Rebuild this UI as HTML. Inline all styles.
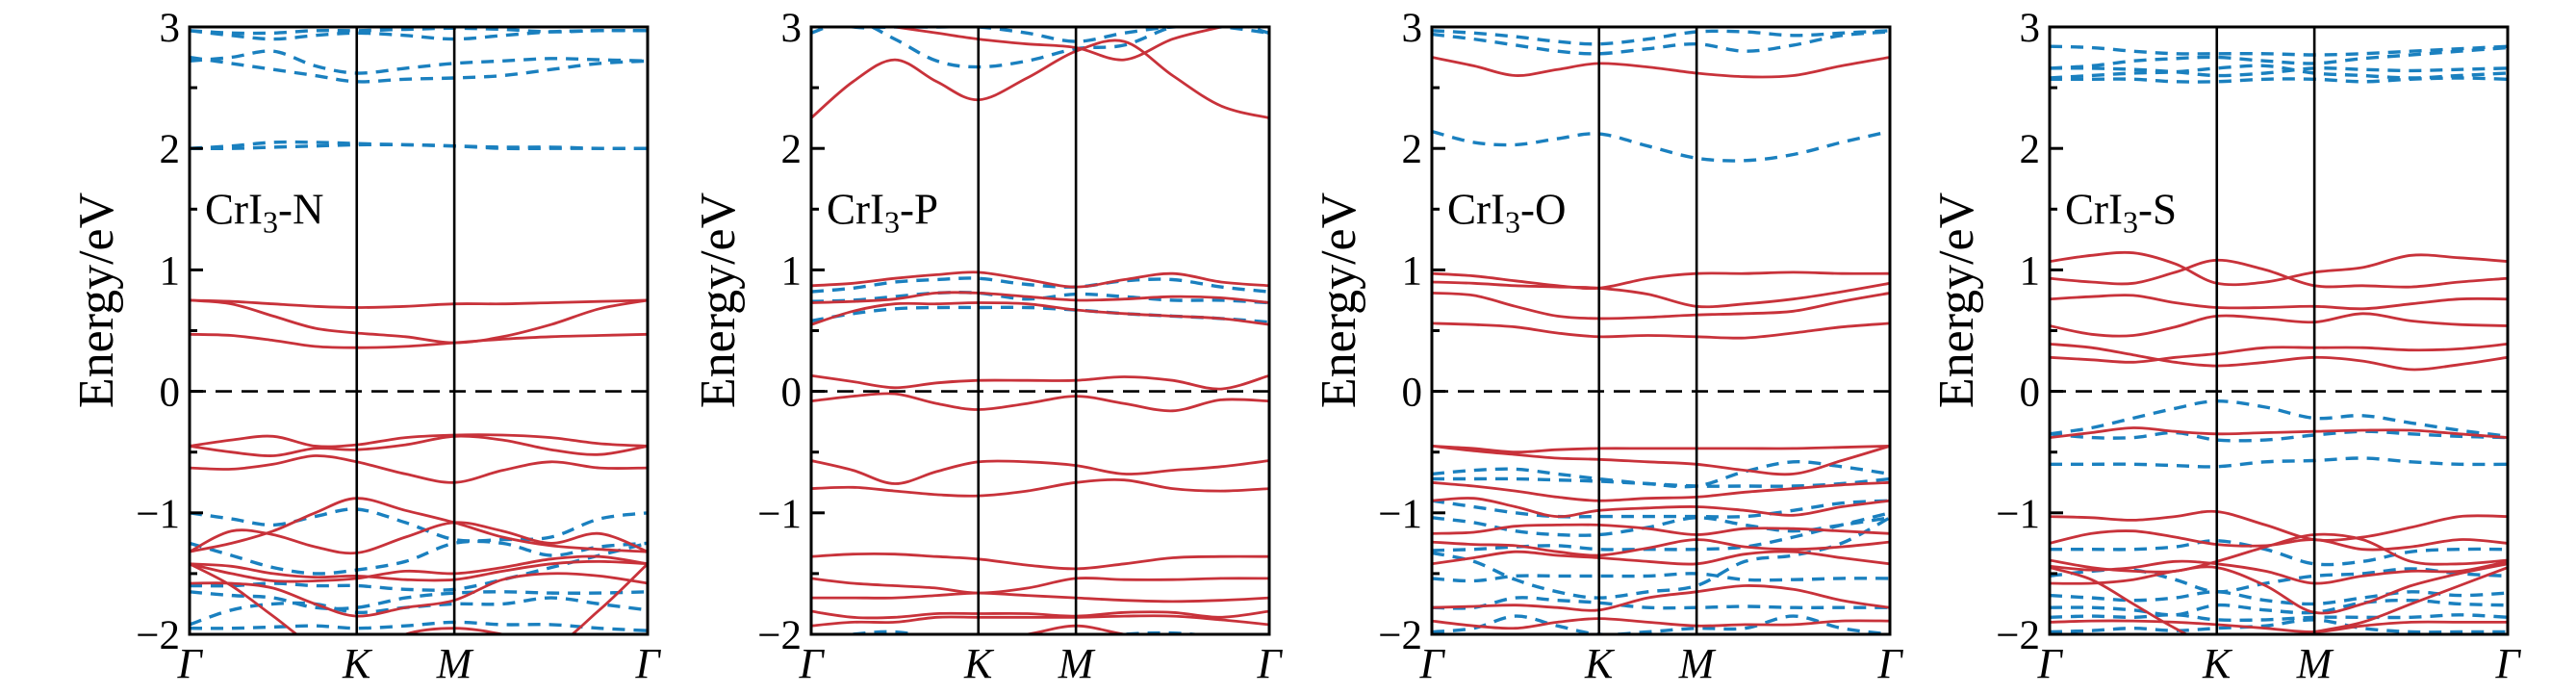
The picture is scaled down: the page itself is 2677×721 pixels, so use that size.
<!DOCTYPE html>
<html><head><meta charset="utf-8"><style>
html,body{margin:0;padding:0;background:#fff;}
svg{display:block;font-family:"Liberation Serif","DejaVu Serif",serif;}
</style></head><body>
<svg id="chart" width="2677" height="721" viewBox="0 0 2677 721" xmlns="http://www.w3.org/2000/svg"></svg>
<script>
const kGrid=[0,0.0913,0.1825,0.274,0.365,0.4715,0.578,0.6835,0.789,0.8945,1];
const kTicks=[0,0.365,0.578,1];
const kTickLabels=["Γ","K","M","Γ"];
const eTicks=[3,2,1,0,-1,-2];
const eTickLabels=["3","2","1","0","−1","−2"];
const panelNames=["CrI3-N","CrI3-P","CrI3-O","CrI3-S"];
const panelSuffix=["N","P","O","S"];

const nUp=[
[0.75,0.74,0.72,0.70,0.69,0.70,0.72,0.72,0.73,0.74,0.75],
[0.75,0.72,0.62,0.52,0.48,0.45,0.40,0.45,0.55,0.68,0.75],
[0.47,0.46,0.42,0.37,0.36,0.37,0.40,0.43,0.45,0.46,0.47],
[-0.45,-0.40,-0.37,-0.45,-0.44,-0.38,-0.36,-0.36,-0.38,-0.43,-0.45],
[-0.45,-0.50,-0.53,-0.47,-0.48,-0.44,-0.37,-0.40,-0.48,-0.52,-0.45],
[-0.63,-0.64,-0.60,-0.53,-0.58,-0.68,-0.75,-0.65,-0.58,-0.63,-0.63],
[-1.32,-1.25,-1.15,-1.0,-0.88,-0.98,-1.08,-1.2,-1.27,-1.30,-1.32],
[-1.32,-1.15,-1.18,-1.28,-1.33,-1.2,-1.08,-1.15,-1.25,-1.17,-1.32],
[-1.42,-1.44,-1.50,-1.53,-1.52,-1.55,-1.55,-1.48,-1.42,-1.40,-1.42],
[-1.42,-1.50,-1.56,-1.56,-1.54,-1.48,-1.50,-1.45,-1.38,-1.36,-1.42],
[-1.58,-1.58,-1.62,-1.75,-1.85,-1.78,-1.72,-1.55,-1.50,-1.52,-1.58],
[-1.42,-1.60,-1.85,-2.1,-2.2,-2.0,-1.95,-2.0,-2.1,-1.8,-1.42]
];
const nDn=[
[2.0,2.02,2.05,2.05,2.04,2.03,2.02,2.01,2.01,2.0,2.0],
[2.0,2.0,2.01,2.02,2.03,2.03,2.02,2.0,2.0,2.0,2.0],
[2.75,2.7,2.65,2.60,2.55,2.57,2.58,2.6,2.65,2.7,2.72],
[2.72,2.75,2.8,2.68,2.62,2.66,2.70,2.72,2.74,2.73,2.72],
[2.97,2.93,2.9,2.93,2.95,2.93,2.9,2.93,2.96,2.97,2.97],
[2.97,2.95,2.95,2.97,2.97,2.98,2.99,2.98,2.96,2.97,2.97],
[-1.0,-1.05,-1.10,-1.03,-0.97,-1.08,-1.22,-1.22,-1.20,-1.05,-1.0],
[-1.25,-1.35,-1.45,-1.50,-1.47,-1.40,-1.25,-1.25,-1.35,-1.28,-1.25],
[-1.60,-1.60,-1.58,-1.60,-1.60,-1.63,-1.63,-1.55,-1.45,-1.35,-1.25],
[-1.65,-1.68,-1.70,-1.78,-1.78,-1.70,-1.66,-1.65,-1.66,-1.66,-1.65],
[-1.92,-1.80,-1.75,-1.75,-1.82,-1.78,-1.75,-1.75,-1.70,-1.75,-1.80],
[-1.95,-1.95,-1.94,-1.93,-1.95,-1.93,-1.90,-1.92,-1.92,-1.95,-1.97]
];
const pUp=[
[2.25,2.55,2.73,2.55,2.40,2.58,2.80,2.88,2.6,2.35,2.25],
[3.1,3.05,3.0,2.95,2.9,2.86,2.83,2.73,2.9,3.0,3.1],
[0.87,0.89,0.93,0.96,0.98,0.92,0.86,0.92,0.97,0.90,0.87],
[0.73,0.74,0.76,0.81,0.81,0.78,0.75,0.76,0.78,0.77,0.73],
[0.55,0.66,0.72,0.72,0.73,0.72,0.67,0.64,0.62,0.60,0.55],
[0.13,0.08,0.03,0.07,0.09,0.09,0.09,0.12,0.09,0.02,0.13],
[-0.08,-0.04,-0.02,-0.10,-0.15,-0.10,-0.04,-0.10,-0.16,-0.07,-0.08],
[-0.57,-0.65,-0.76,-0.66,-0.58,-0.58,-0.61,-0.68,-0.65,-0.62,-0.57],
[-0.80,-0.79,-0.82,-0.85,-0.86,-0.82,-0.75,-0.73,-0.80,-0.82,-0.80],
[-1.36,-1.34,-1.34,-1.36,-1.38,-1.43,-1.46,-1.42,-1.37,-1.36,-1.36],
[-1.54,-1.58,-1.60,-1.62,-1.66,-1.62,-1.54,-1.55,-1.55,-1.54,-1.54],
[-1.70,-1.70,-1.70,-1.68,-1.66,-1.68,-1.70,-1.72,-1.73,-1.72,-1.70],
[-1.81,-1.86,-1.86,-1.83,-1.83,-1.83,-1.85,-1.82,-1.82,-1.86,-1.81],
[-1.93,-1.90,-1.90,-1.86,-1.86,-1.86,-1.86,-1.85,-1.85,-1.88,-1.92],
[-2.1,-2.1,-2.1,-2.05,-2.05,-2.0,-1.93,-2.0,-2.05,-2.1,-2.1]
];
const pDn=[
[2.95,3.05,2.9,2.72,2.67,2.72,2.82,2.85,3.0,3.05,2.95],
[3.1,3.0,3.0,3.0,3.0,2.95,2.88,2.95,3.0,3.0,2.95],
[0.82,0.85,0.90,0.92,0.93,0.88,0.86,0.91,0.92,0.86,0.82],
[0.74,0.75,0.78,0.81,0.81,0.76,0.80,0.78,0.75,0.75,0.73],
[0.58,0.64,0.68,0.69,0.69,0.69,0.67,0.64,0.62,0.60,0.57],
[-2.05,-2.0,-1.98,-2.03,-2.05,-2.1,-2.05,-2.0,-1.99,-2.02,-2.05]
];
const oUp=[
[2.75,2.68,2.60,2.65,2.70,2.67,2.62,2.59,2.60,2.68,2.75],
[0.97,0.95,0.91,0.87,0.85,0.93,0.97,0.97,0.98,0.97,0.97],
[0.90,0.89,0.87,0.86,0.85,0.80,0.70,0.72,0.76,0.82,0.89],
[0.81,0.79,0.70,0.62,0.60,0.61,0.63,0.64,0.66,0.74,0.81],
[0.56,0.55,0.53,0.48,0.45,0.46,0.45,0.44,0.48,0.53,0.56],
[-0.45,-0.47,-0.50,-0.48,-0.47,-0.47,-0.47,-0.47,-0.47,-0.46,-0.45],
[-0.45,-0.49,-0.52,-0.55,-0.56,-0.58,-0.60,-0.65,-0.68,-0.57,-0.45],
[-0.75,-0.78,-0.82,-0.87,-0.90,-0.88,-0.87,-0.83,-0.80,-0.77,-0.75],
[-0.90,-0.88,-0.95,-1.03,-0.98,-0.96,-0.95,-0.98,-1.02,-0.95,-0.90],
[-1.17,-1.16,-1.11,-1.10,-1.10,-1.13,-1.18,-1.13,-1.13,-1.15,-1.17],
[-1.24,-1.26,-1.27,-1.32,-1.35,-1.29,-1.22,-1.28,-1.30,-1.28,-1.24],
[-1.42,-1.37,-1.32,-1.35,-1.37,-1.40,-1.42,-1.34,-1.32,-1.37,-1.42],
[-1.78,-1.77,-1.76,-1.78,-1.80,-1.70,-1.65,-1.60,-1.63,-1.72,-1.78],
[-1.89,-1.93,-1.95,-1.90,-1.87,-1.90,-1.93,-1.92,-1.92,-1.89,-1.89]
];
const oDn=[
[2.97,2.95,2.92,2.88,2.86,2.90,2.96,2.96,2.93,2.95,2.97],
[2.94,2.90,2.85,2.80,2.78,2.82,2.86,2.80,2.85,2.93,2.96],
[2.14,2.05,2.03,2.08,2.12,2.02,1.92,1.90,1.95,2.05,2.14],
[-0.68,-0.65,-0.64,-0.68,-0.72,-0.76,-0.78,-0.66,-0.58,-0.62,-0.68],
[-0.72,-0.72,-0.72,-0.73,-0.74,-0.76,-0.78,-0.78,-0.78,-0.76,-0.72],
[-0.90,-0.95,-1.0,-1.03,-1.03,-1.03,-1.03,-1.03,-0.98,-0.92,-0.90],
[-1.04,-1.08,-1.15,-1.18,-1.18,-1.12,-1.04,-1.10,-1.15,-1.10,-1.04],
[-1.31,-1.30,-1.28,-1.27,-1.30,-1.30,-1.30,-1.28,-1.20,-1.10,-1.0],
[-1.33,-1.40,-1.55,-1.65,-1.70,-1.65,-1.60,-1.40,-1.35,-1.25,-1.04],
[-1.54,-1.56,-1.52,-1.52,-1.52,-1.52,-1.50,-1.55,-1.55,-1.54,-1.54],
[-1.78,-1.78,-1.70,-1.72,-1.74,-1.78,-1.78,-1.77,-1.78,-1.78,-1.78],
[-1.98,-1.95,-1.85,-1.93,-2.0,-1.98,-1.95,-1.95,-1.85,-1.95,-2.0]
];
const sUp=[
[1.07,1.12,1.14,1.05,0.89,0.90,0.98,1.02,1.12,1.10,1.07],
[0.93,0.90,0.89,0.98,1.08,1.0,0.87,0.87,0.86,0.90,0.93],
[0.76,0.78,0.79,0.73,0.69,0.69,0.70,0.68,0.72,0.76,0.76],
[0.54,0.47,0.46,0.53,0.62,0.60,0.57,0.64,0.58,0.55,0.54],
[0.39,0.36,0.30,0.24,0.21,0.24,0.28,0.25,0.18,0.22,0.28],
[0.28,0.26,0.24,0.28,0.31,0.36,0.36,0.36,0.34,0.35,0.39],
[-0.38,-0.34,-0.30,-0.33,-0.35,-0.34,-0.33,-0.32,-0.32,-0.35,-0.38],
[-1.03,-1.04,-1.06,-1.03,-0.99,-1.1,-1.22,-1.2,-1.12,-1.03,-1.03],
[-1.25,-1.17,-1.15,-1.20,-1.26,-1.27,-1.22,-1.30,-1.28,-1.22,-1.25],
[-1.39,-1.45,-1.48,-1.48,-1.40,-1.28,-1.18,-1.22,-1.40,-1.42,-1.39],
[-1.44,-1.47,-1.45,-1.40,-1.42,-1.48,-1.58,-1.52,-1.48,-1.48,-1.40],
[-1.58,-1.58,-1.55,-1.48,-1.45,-1.60,-1.82,-1.75,-1.60,-1.50,-1.42],
[-1.45,-1.55,-1.75,-1.95,-2.1,-2.05,-1.98,-1.90,-1.75,-1.60,-1.45],
[-1.90,-1.89,-1.89,-1.90,-1.92,-1.95,-1.98,-1.93,-1.90,-1.90,-1.90]
];
const sDn=[
[2.84,2.83,2.80,2.78,2.78,2.78,2.77,2.78,2.80,2.82,2.84],
[2.66,2.68,2.72,2.74,2.75,2.72,2.70,2.74,2.77,2.80,2.83],
[2.66,2.66,2.65,2.63,2.60,2.62,2.66,2.65,2.64,2.65,2.66],
[2.57,2.57,2.57,2.55,2.55,2.57,2.57,2.55,2.57,2.58,2.57],
[2.58,2.60,2.62,2.63,2.66,2.68,2.62,2.60,2.58,2.60,2.62],
[-0.35,-0.30,-0.22,-0.14,-0.08,-0.13,-0.22,-0.20,-0.26,-0.32,-0.37],
[-0.35,-0.38,-0.38,-0.34,-0.40,-0.40,-0.36,-0.33,-0.35,-0.37,-0.38],
[-0.60,-0.60,-0.60,-0.61,-0.62,-0.58,-0.57,-0.55,-0.58,-0.60,-0.60],
[-1.30,-1.30,-1.30,-1.28,-1.23,-1.30,-1.42,-1.40,-1.32,-1.30,-1.30],
[-1.52,-1.48,-1.47,-1.55,-1.65,-1.58,-1.52,-1.50,-1.46,-1.50,-1.52],
[-1.68,-1.70,-1.72,-1.70,-1.65,-1.72,-1.75,-1.70,-1.65,-1.68,-1.66],
[-1.78,-1.78,-1.80,-1.84,-1.76,-1.80,-1.82,-1.74,-1.72,-1.75,-1.76],
[-1.86,-1.85,-1.86,-1.84,-1.88,-1.88,-1.86,-1.86,-1.86,-1.84,-1.86],
[-1.98,-1.97,-1.95,-1.97,-1.95,-1.93,-1.88,-1.95,-1.98,-1.98,-1.98]
];
const upSets=[nUp,pUp,oUp,sUp];
const dnSets=[nDn,pDn,oDn,sDn];

const NS="http://www.w3.org/2000/svg";
const svg=document.getElementById("chart");
const panelLeft=[197,843,1488,2130];
const PW=476, TOP=28, BOT=659, EMAX=3, EMIN=-2;
const RED="#c8323a", BLUE="#1a80bf";
function mk(tag,attrs,parent){const e=document.createElementNS(NS,tag);for(const k in attrs)e.setAttribute(k,attrs[k]);(parent||svg).appendChild(e);return e;}
function yE(e){return TOP+(EMAX-e)/(EMAX-EMIN)*(BOT-TOP);}
function smooth(pts){
  let d="M"+pts[0][0].toFixed(1)+","+pts[0][1].toFixed(1);
  for(let i=0;i<pts.length-1;i++){
    const p0=pts[Math.max(0,i-1)],p1=pts[i],p2=pts[i+1],p3=pts[Math.min(pts.length-1,i+2)];
    const c1x=p1[0]+(p2[0]-p0[0])/6,c1y=p1[1]+(p2[1]-p0[1])/6;
    const c2x=p2[0]-(p3[0]-p1[0])/6,c2y=p2[1]-(p3[1]-p1[1])/6;
    d+=" C"+c1x.toFixed(1)+","+c1y.toFixed(1)+" "+c2x.toFixed(1)+","+c2y.toFixed(1)+" "+p2[0].toFixed(1)+","+p2[1].toFixed(1);
  }
  return d;
}
const defs=mk("defs",{});
for(let p=0;p<4;p++){
  const L=panelLeft[p];
  const xK=k=>L+k*PW;
  const g=mk("g",{});
  
  
  const cp=mk("clipPath",{id:"clip"+p},defs);
  mk("rect",{x:L,y:TOP,width:PW,height:BOT-TOP},cp);
  const bands=mk("g",{"clip-path":"url(#clip"+p+")"},g);
  dnSets[p].forEach((arr,i)=>{
    const path=mk("path",{d:smooth(arr.map((e,j)=>[xK(kGrid[j]),yE(e)])),fill:"none",stroke:BLUE,"stroke-width":3.4,"stroke-dasharray":"13 9"},bands);
    
    
  });
  upSets[p].forEach((arr,i)=>{
    const path=mk("path",{d:smooth(arr.map((e,j)=>[xK(kGrid[j]),yE(e)])),fill:"none",stroke:RED,"stroke-width":2.8},bands);
    
    
  });
  const fermi=mk("line",{x1:L,x2:L+PW,y1:yE(0),y2:yE(0),stroke:"#000","stroke-width":2.6,"stroke-dasharray":"17 10"},g);
  
  
  [1,2].forEach(i=>{
    const v=mk("line",{x1:xK(kTicks[i]),x2:xK(kTicks[i]),y1:TOP,y2:BOT,stroke:"#000","stroke-width":2.6},g);
    
    
  });
  const frame=mk("rect",{x:L,y:TOP,width:PW,height:BOT-TOP,fill:"none",stroke:"#000","stroke-width":3},g);
  
  
  for(let e=EMIN;e<=EMAX;e+=0.5){
    const major=Math.abs(e-Math.round(e))<1e-6;
    mk("line",{x1:L,x2:L+(major?14:8),y1:yE(e),y2:yE(e),stroke:"#000","stroke-width":3},g);
  }
  eTicks.forEach((e,i)=>{
    const t=mk("text",{x:L-10,y:yE(e)+15,"text-anchor":"end","font-size":43,fill:"#000"},g);
    t.textContent=eTickLabels[i];
    
    
  });
  kTicks.forEach((k,i)=>{
    const t=mk("text",{x:xK(k),y:704,"text-anchor":"middle","font-size":44,"font-style":"italic",fill:"#000"},g);
    t.textContent=kTickLabels[i];
    
    
  });
  const lab=mk("text",{x:L+16,y:yE(1.5)+15,"font-size":45,fill:"#000"},g);
  
  
  lab.appendChild(document.createTextNode("CrI"));
  const sub=mk("tspan",{"font-size":32,dy:9},lab);sub.textContent="3";
  const rest=mk("tspan",{dy:-9},lab);rest.textContent="-"+panelSuffix[p];
  const yl=mk("text",{x:0,y:0,"text-anchor":"middle","font-size":52,fill:"#000",transform:"translate("+(L-80)+","+yE(0.75)+") rotate(-90)"},g);
  yl.textContent="Energy/eV";
  
  
}
</script>
</body></html>
